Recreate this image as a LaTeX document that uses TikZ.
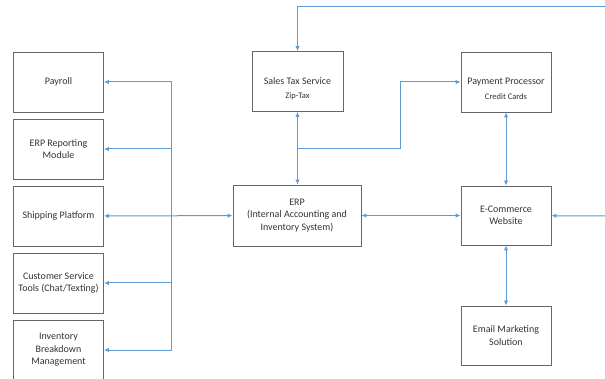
\documentclass[tikz,border=0pt]{standalone}
\usepackage{fontspec}
\setmainfont{Carlito}
\usetikzlibrary{arrows.meta}
\definecolor{lineblue}{HTML}{5B9BD5}
\definecolor{boxgray}{HTML}{666666}
\definecolor{txtgray}{HTML}{333333}
\begin{document}
\begin{tikzpicture}[x=1pt,y=-1pt,>={Latex[length=5pt,width=4.5pt]},
    box/.style={draw=boxgray,line width=0.9pt,minimum width=90pt,minimum height=60pt,
      align=center,text=txtgray,font=\fontsize{10}{12.5}\selectfont,inner sep=2pt},
    sub/.style={text=txtgray,font=\fontsize{8.5}{10}\selectfont},
    link/.style={lineblue,line width=1pt}]
    \useasboundingbox (0,0) rectangle (605,379);

    % Cột hộp bên trái
    \node[box] (pay) at (58.5,82) {Payroll};
    \node[box] (rep) at (58.5,149) {ERP Reporting\\Module};
    \node[box] (ship) at (58.5,216) {Shipping Platform};
    \node[box] (cs) at (58.5,283) {Customer Service\\Tools (Chat/Texting)};
    \node[box] (inv) at (58.5,350) {Inventory\\Breakdown\\Management};

    % Hộp ở giữa
    \node[box,minimum width=91pt] (tax) at (297.5,81.5) {Sales Tax Service};
    \node[sub] (taxsub) at ([yshift=-15pt]tax.center) {Zip-Tax};
    \node[box,minimum width=128pt,minimum height=61pt] (erp) at (297,215.5)
      {ERP\\(Internal Accounting and\\Inventory System)};

    % Hộp bên phải
    \node[box] (payp) at (506,82) {Payment Processor};
    \node[sub] (paysub) at ([yshift=-15pt]payp.center) {Credit Cards};
    \node[box,minimum height=59pt] (ecom) at (506,215.5) {E-Commerce\\Website};
    \node[box,minimum height=59pt] (email) at (506,335.5) {Email Marketing\\Solution};

    % Các điểm nối
    \coordinate (bus) at (171,216);
    \coordinate (topright) at (605,7);
    \coordinate (split) at (297.5,149);
    \coordinate (bend) at (400,149);
    \coordinate (rightin) at (605,216);

    % Nhánh bên trái
    \draw[link,<->] (ship) -- (erp);
    \foreach \n in {pay,rep,cs,inv}
    \draw[link,->] (bus) |- (\n);

    % Đường nối ở giữa và bên phải
    \draw[link,->] (topright) -| (tax);
    \draw[link,<->] (tax) -- (tax.south |- erp.north);
    \draw[link,->] (split) -- (bend) |- (payp);
    \draw[link,<->] (payp) -- (ecom);
    \draw[link,<->] (erp) -- (ecom);
    \draw[link,->] (rightin) -- (ecom);
    \draw[link,<->] (ecom) -- (email);
\end{tikzpicture}
\end{document}
